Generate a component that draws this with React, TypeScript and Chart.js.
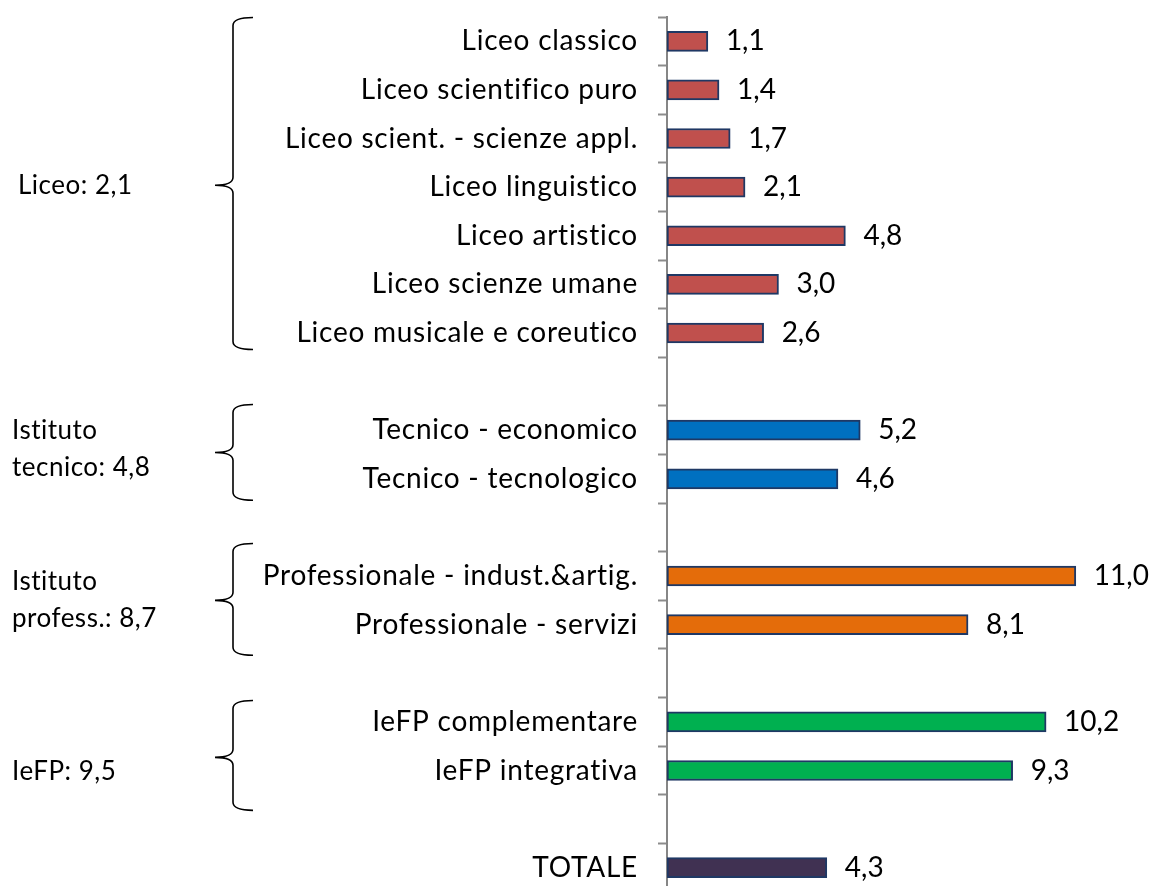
import React, { useEffect, useRef } from "react";
import { Chart, registerables } from "chart.js";

Chart.register(...registerables);

const categories = [
  "Liceo classico",
  "Liceo scientifico puro",
  "Liceo scient. - scienze appl.",
  "Liceo linguistico",
  "Liceo artistico",
  "Liceo scienze umane",
  "Liceo musicale e coreutico",
  "",
  "Tecnico - economico",
  "Tecnico - tecnologico",
  "",
  "Professionale - indust.&artig.",
  "Professionale - servizi",
  "",
  "IeFP complementare",
  "IeFP integrativa",
  "",
  "TOTALE",
];

const values: (number | null)[] = [
  1.1, 1.4, 1.7, 2.1, 4.8, 3.0, 2.6, null, 5.2, 4.6, null, 11.0, 8.1, null, 10.2, 9.3, null, 4.3,
];

const groupOf = [
  "liceo", "liceo", "liceo", "liceo", "liceo", "liceo", "liceo", "",
  "tecnico", "tecnico", "",
  "prof", "prof", "",
  "iefp", "iefp", "",
  "totale",
];

const groupColors: Record<string, string> = {
  liceo: "#C0504D",
  tecnico: "#0070C0",
  prof: "#E46C0A",
  iefp: "#00B050",
  totale: "#403152",
  "": "#ffffff",
};

const groupLabels = [
  ["Liceo: 2,1"],
  ["Istituto", "tecnico: 4,8"],
  ["Istituto", "profess.: 8,7"],
  ["IeFP: 9,5"],
];

// annotation geometry (row units on the category scale)
const braceSpans = [
  { top: -0.49, bottom: 6.34, tip: 2.96, labelRows: [2.96], labelX: 18 },
  { top: 7.47, bottom: 9.44, tip: 8.46, labelRows: [8.0, 8.76], labelX: 12 },
  { top: 10.33, bottom: 12.63, tip: 11.5, labelRows: [11.11, 11.87], labelX: 12 },
  { top: 13.56, bottom: 15.82, tip: 14.73, labelRows: [15.02], labelX: 12 },
];

const FONT = "Lato";

const spacing = {
  id: "spacing",
  beforeDraw(chart: any) {
    chart.ctx.letterSpacing = "0.75px";
  },
};

const annotations = {
  id: "annotations",
  afterDraw(chart: any) {
    const ctx = chart.ctx;
    const y = chart.scales.y;
    ctx.save();
    // data labels
    ctx.letterSpacing = "0px";
    ctx.fillStyle = "#000";
    ctx.font = `28px ${FONT}`;
    ctx.textAlign = "left";
    ctx.textBaseline = "middle";
    const meta = chart.getDatasetMeta(0);
    meta.data.forEach((el: any, i: number) => {
      const v = values[i];
      if (v === null || v === undefined) return;
      ctx.fillText(v.toFixed(1).replace(".", ","), el.x + 18, el.y);
    });
    // braces and group labels
    const xLine = 233;
    const xEnd = 253;
    const xTip = 215;
    const r = 8;
    ctx.strokeStyle = "#000";
    ctx.lineWidth = 1.6;
    braceSpans.forEach((b, gi) => {
      const top = y.getPixelForValue(b.top);
      const bot = y.getPixelForValue(b.bottom);
      const mid = y.getPixelForValue(b.tip);
      ctx.beginPath();
      ctx.moveTo(xEnd, top);
      ctx.quadraticCurveTo(xLine, top, xLine, top + r);
      ctx.lineTo(xLine, mid - r);
      ctx.quadraticCurveTo(xLine, mid, xTip, mid);
      ctx.quadraticCurveTo(xLine, mid, xLine, mid + r);
      ctx.lineTo(xLine, bot - r);
      ctx.quadraticCurveTo(xLine, bot, xEnd, bot);
      ctx.stroke();
      ctx.letterSpacing = "0.5px";
      ctx.font = `26px ${FONT}`;
      ctx.textAlign = "left";
      ctx.textBaseline = "middle";
      groupLabels[gi].forEach((line, li) => {
        ctx.fillText(line, b.labelX, y.getPixelForValue(b.labelRows[li]));
      });
    });
    ctx.restore();
  },
};

export default function App() {
  const ref = useRef<HTMLCanvasElement | null>(null);
  useEffect(() => {
    if (!ref.current) return;
    const chart = new Chart(ref.current, {
      type: "bar",
      data: {
        labels: categories,
        datasets: [
          {
            data: values as any,
            backgroundColor: groupOf.map((g) => groupColors[g]),
            borderColor: "#1F3864",
            borderWidth: 2,
            borderSkipped: false,
            barThickness: 20,
          },
        ],
      },
      options: {
        indexAxis: "y",
        animation: false,
        responsive: false,
        devicePixelRatio: 1,
        layout: { padding: { top: 17, right: 37, bottom: 0, left: 0 } },
        plugins: {
          legend: { display: false },
          tooltip: { enabled: false },
        },
        scales: {
          x: {
            display: false,
            min: 0,
            max: 12,
          },
          y: {
            offset: true,
            afterFit: (scale: any) => {
              scale.width = 667;
              scale.paddingTop = 0;
              scale.paddingBottom = 0;
            },
            grid: {
              display: true,
              offset: true,
              drawOnChartArea: false,
              drawTicks: true,
              tickLength: 9,
              tickWidth: 2,
              tickColor: "#8C8C8C",
              color: "#8C8C8C",
            },
            border: { display: true, color: "#868686", width: 2 },
            ticks: {
              padding: 20,
              color: "#000",
              autoSkip: false,
              font: { family: FONT, size: 28 },
            },
          },
        },
      },
      plugins: [spacing, annotations],
    });
    return () => chart.destroy();
  }, []);
  return (
    <div
      style={{
        position: "fixed",
        top: 0,
        left: 0,
        width: 1150,
        height: 886,
        overflow: "hidden",
        background: "#fff",
      }}
    >
      <canvas ref={ref} width={1150} height={892} style={{ display: "block" }} />
    </div>
  );
}
